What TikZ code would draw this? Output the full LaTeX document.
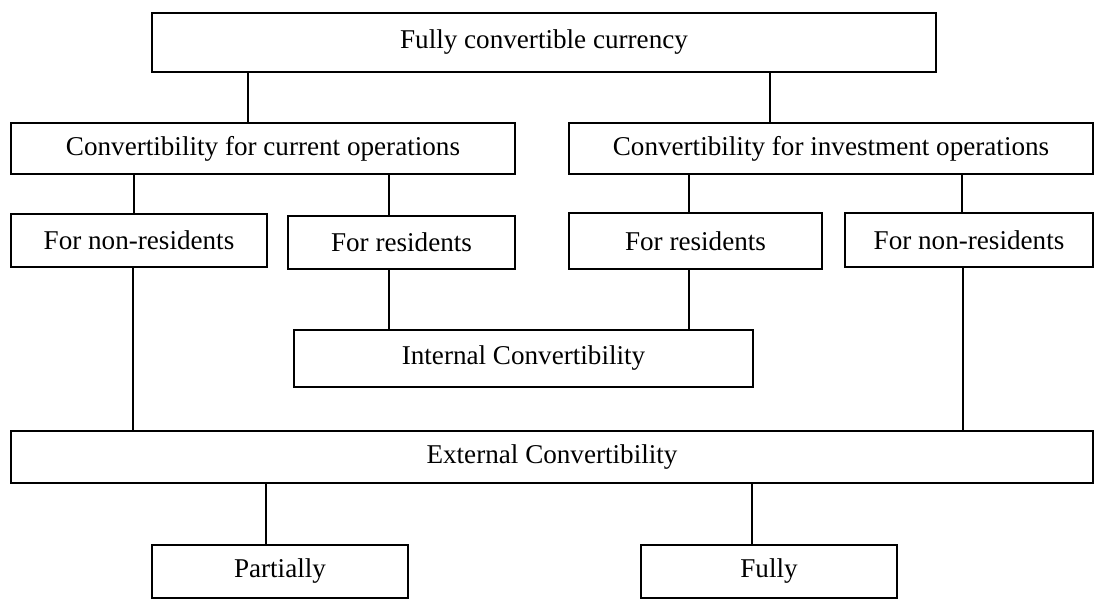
\documentclass[tikz,border=0pt]{standalone}
\usepackage{fontspec}
\setmainfont{Liberation Serif}
\usepackage{tikz}

\begin{document}
\begin{tikzpicture}[
            box/.style={draw, line width=1.1pt, inner sep=0pt, align=center,
            font=\fontsize{19.3}{23}\selectfont},
            link/.style={line width=1.1pt},
            every node/.style={color=black}
            ]
            \useasboundingbox (0,0) rectangle (27.4,-14.975);

            % boxes
            \node[box, minimum width=19.6cm, minimum height=1.475cm] (full) at (13.6,-1.0625) {Fully convertible currency};
            \node[box, minimum width=12.6cm, minimum height=1.275cm] (current) at (6.575,-3.7125) {Convertibility for current operations};
            \node[box, minimum width=13.1cm, minimum height=1.275cm] (invest) at (20.775,-3.7125) {Convertibility for investment operations};

            \node[box, minimum width=6.4cm, minimum height=1.325cm] (curnonres) at (3.475,-6.0125) {For non-residents};
            \node[box, minimum width=5.675cm, minimum height=1.325cm] (curres) at (10.0375,-6.0625) {For residents};
            \node[box, minimum width=6.325cm, minimum height=1.4cm] (invres) at (17.3875,-6.025) {For residents};
            \node[box, minimum width=6.2cm, minimum height=1.35cm] (invnonres) at (24.225,-6.0) {For non-residents};

            \node[box, minimum width=11.475cm, minimum height=1.425cm] (internal) at (13.0875,-8.9625) {Internal Convertibility};
            \node[box, minimum width=27.05cm, minimum height=1.3cm] (external) at (13.8,-11.425) {External Convertibility};

            \node[box, minimum width=6.4cm, minimum height=1.325cm] (partially) at (7.0,-14.2875) {Partially};
            \node[box, minimum width=6.4cm, minimum height=1.325cm] (fully) at (19.225,-14.2875) {Fully};

            % links
            \draw[link] ([xshift=2.425cm]full.south west) -- ([xshift=2.425cm]full.south west |- current.north);
            \draw[link] ([xshift=15.475cm]full.south west) -- ([xshift=15.475cm]full.south west |- invest.north);

            \draw[link] ([xshift=3.1cm]current.south west) -- ([xshift=3.1cm]current.south west |- curnonres.north);
            \draw[link] ([xshift=9.475cm]current.south west) -- ([xshift=9.475cm]current.south west |- curres.north);
            \draw[link] ([xshift=3.025cm]invest.south west) -- ([xshift=3.025cm]invest.south west |- invres.north);
            \draw[link] ([xshift=9.85cm]invest.south west) -- ([xshift=9.85cm]invest.south west |- invnonres.north);

            \draw[link] ([xshift=2.55cm]curres.south west) -- ([xshift=2.55cm]curres.south west |- internal.north);
            \draw[link] ([xshift=3.025cm]invres.south west) -- ([xshift=3.025cm]invres.south west |- internal.north);

            \draw[link] ([xshift=3.075cm]curnonres.south west) -- ([xshift=3.075cm]curnonres.south west |- external.north);
            \draw[link] ([xshift=2.975cm]invnonres.south west) -- ([xshift=2.975cm]invnonres.south west |- external.north);

            \draw[link] ([xshift=2.875cm]partially.north west) -- ([xshift=2.875cm]partially.north west |- external.south);
            \draw[link] ([xshift=2.8cm]fully.north west) -- ([xshift=2.8cm]fully.north west |- external.south);

        \end{tikzpicture}
\end{document}
